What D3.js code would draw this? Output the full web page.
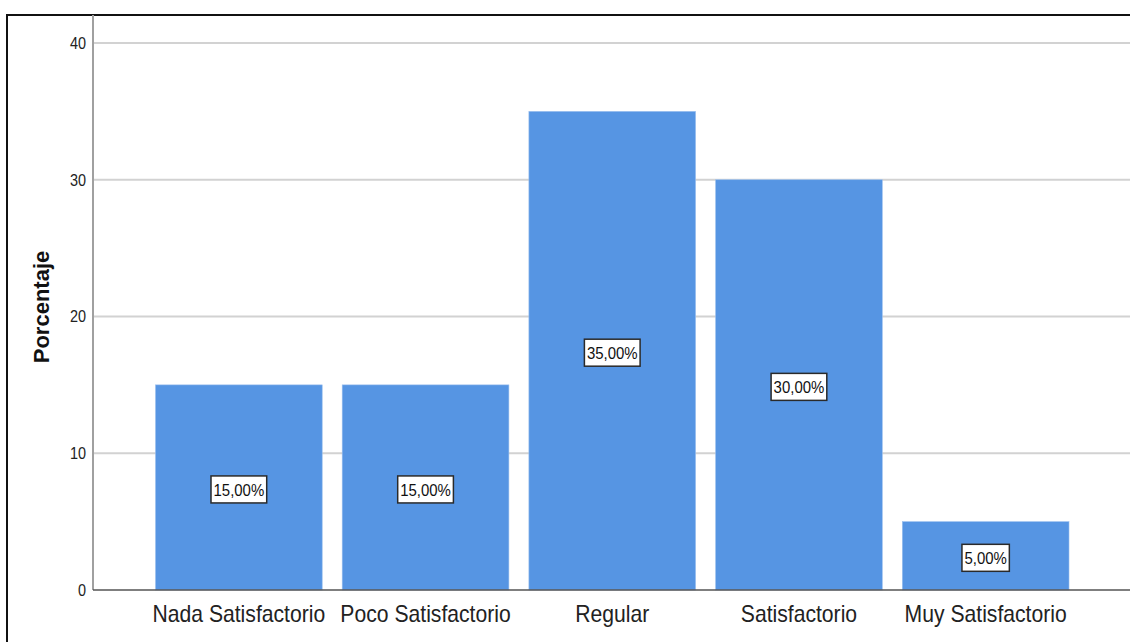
<!DOCTYPE html>
<html>
<head>
<meta charset="utf-8">
<script src="https://cdn.jsdelivr.net/npm/d3@7/dist/d3.min.js"></script>
<style>
  html, body { margin: 0; padding: 0; background: #fff; }
  svg { display: block; font-family: "Liberation Sans", Arial, sans-serif; }
</style>
</head>
<body>
<svg id="chart" width="1130" height="642"></svg>
<script>
// Satisfaction levels and their share of respondents (%)
const categories = ["Nada Satisfactorio", "Poco Satisfactorio", "Regular", "Satisfactorio", "Muy Satisfactorio"];
const percentages = [15, 15, 35, 30, 5];
const valueLabels = ["15,00%", "15,00%", "35,00%", "30,00%", "5,00%"];
const yTicks = [0, 10, 20, 30, 40];
const yTitle = "Porcentaje";

const svg = d3.select("#chart");
const axisX = 93;          // y axis position
const plotRight = 1130;
const plotTop = 15;
const plotBottom = 590;

const y = d3.scaleLinear().domain([0, 40]).range([plotBottom, 43]);
const x = d3.scaleBand()
  .domain(categories)
  .range([145.5, 1079])
  .paddingInner(0.107)
  .paddingOuter(0.0535);

// outer frame
svg.append("rect")
  .attr("x", 7).attr("y", plotTop)
  .attr("width", 1200).attr("height", 700)
  .attr("fill", "none").attr("stroke", "#111").attr("stroke-width", 2);

// horizontal gridlines
svg.append("g").selectAll("line")
  .data(yTicks.filter(d => d > 0))
  .join("line")
  .attr("x1", axisX).attr("x2", plotRight)
  .attr("y1", d => y(d)).attr("y2", d => y(d))
  .attr("stroke", "#d2d2d2").attr("stroke-width", 2);

// y axis (narrow tick font)
const yAxis = d3.axisLeft(y).tickValues(yTicks).tickSize(0).tickPadding(7).tickFormat(d3.format("d"));
const yg = svg.append("g").attr("transform", `translate(${axisX},0)`).call(yAxis);
yg.select(".domain").remove();
yg.selectAll("text")
  .attr("font-size", 17).attr("fill", "#222")
  .attr("font-family", "'Liberation Sans', Arial, sans-serif")
  .attr("x", 0)
  .attr("transform", "translate(-7,0) scale(0.85,1)");
svg.append("line")
  .attr("x1", axisX).attr("x2", axisX)
  .attr("y1", plotTop).attr("y2", plotBottom)
  .attr("stroke", "#a0a0a0").attr("stroke-width", 2);

// bars
svg.append("g").selectAll("rect")
  .data(categories)
  .join("rect")
  .attr("x", d => x(d))
  .attr("y", (d, i) => y(percentages[i]))
  .attr("width", x.bandwidth())
  .attr("height", (d, i) => y(0) - y(percentages[i]))
  .attr("fill", "#5695e3")
  .attr("stroke", "#9cc0ee").attr("stroke-width", 0.6);

// x axis baseline and category labels
svg.append("line")
  .attr("x1", axisX).attr("x2", plotRight)
  .attr("y1", plotBottom).attr("y2", plotBottom)
  .attr("stroke", "#555").attr("stroke-width", 1.5);
const xAxis = d3.axisBottom(x).tickSize(0).tickPadding(16);
const xg = svg.append("g").attr("transform", `translate(0,${plotBottom})`).call(xAxis);
xg.select(".domain").remove();
xg.selectAll("text")
  .attr("font-size", 23).attr("fill", "#222")
  .attr("font-family", "'Liberation Sans', Arial, sans-serif")
  .attr("transform", "scale(0.92,1)");

// value labels in boxes at bar mid-height
const labelScale = 0.88;
const labels = svg.append("g").selectAll("g")
  .data(categories)
  .join("g")
  .attr("transform", (d, i) => `translate(${x(d) + x.bandwidth() / 2},${y(percentages[i] / 2) + 2})`);
labels.append("text")
  .attr("text-anchor", "middle")
  .attr("dy", "0.36em")
  .attr("font-size", 17)
  .attr("fill", "#111")
  .attr("transform", `scale(${labelScale},1)`)
  .text((d, i) => valueLabels[i]);
labels.each(function () {
  const g = d3.select(this);
  const bb = g.select("text").node().getBBox();
  const w = bb.width * labelScale;
  g.insert("rect", "text")
    .attr("x", -w / 2 - 2.5).attr("y", -13.5)
    .attr("width", w + 5).attr("height", 27)
    .attr("fill", "#fff").attr("stroke", "#2a2a2a").attr("stroke-width", 1.5);
});

// y axis title
svg.append("text")
  .attr("transform", "translate(49,307) rotate(-90)")
  .attr("text-anchor", "middle")
  .attr("font-size", 22)
  .attr("font-weight", "bold")
  .attr("fill", "#111")
  .text(yTitle);
</script>
</body>
</html>
